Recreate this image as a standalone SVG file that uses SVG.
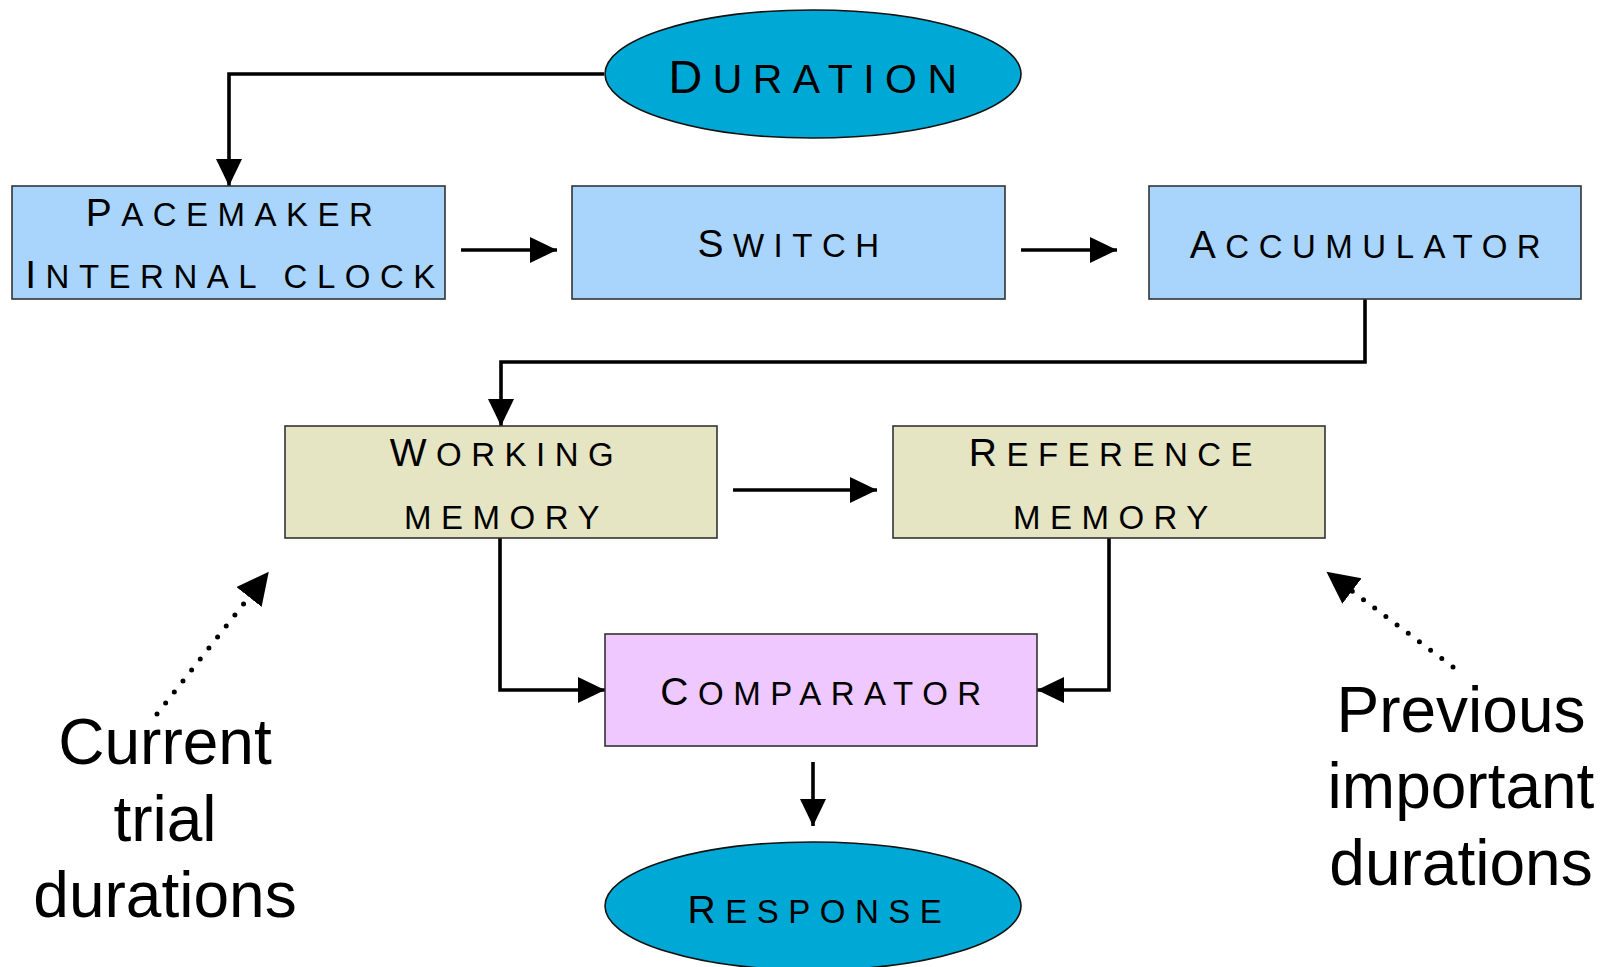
<svg xmlns="http://www.w3.org/2000/svg" width="1611" height="967" viewBox="0 0 1611 967">
<defs>
<style>
.bg{fill:#ffffff}
.box{stroke:#333333;stroke-width:1.6}
.blue{fill:#a9d5fd}
.khaki{fill:#e5e5c3}
.lav{fill:#eec8fe}
.ell{fill:#00a8d5;stroke:#111111;stroke-width:1.6}
.lbl{font-family:"Liberation Sans",Arial,sans-serif;fill:#000000;text-anchor:middle;letter-spacing:9.5px}
.cap{font-size:39px}
.sc{font-size:33px;text-transform:uppercase}
.dur{letter-spacing:10.5px}
.dcap{font-size:46.7px}
.dsc{font-size:41px;text-transform:uppercase}
.side{font-family:"Liberation Sans",Arial,sans-serif;font-size:64px;fill:#000000;text-anchor:middle}
.conn{fill:none;stroke:#000000;stroke-width:3.6;stroke-linejoin:miter;stroke-linecap:butt}
.dot{fill:none;stroke:#000000;stroke-width:5;stroke-linecap:round;stroke-dasharray:0 14}
</style>
<marker id="ah" markerUnits="userSpaceOnUse" markerWidth="28" markerHeight="28" refX="27" refY="13" orient="auto" viewBox="0 0 28 28">
<path d="M0,0 L27,13 L0,26 z" fill="#000000"/>
</marker>
<marker id="ahd" markerUnits="userSpaceOnUse" markerWidth="34" markerHeight="34" refX="0" refY="16" orient="auto" viewBox="0 0 34 34">
<path d="M0,0 L32,16 L0,32 z" fill="#000000"/>
</marker>
</defs>
<rect class="bg" x="0" y="0" width="1611" height="967"/>

<g id="connectors">
<path class="conn" d="M604,74 H229 V186" marker-end="url(#ah)"/>
<path class="conn" d="M461,250 H557" marker-end="url(#ah)"/>
<path class="conn" d="M1021,250 H1117" marker-end="url(#ah)"/>
<path class="conn" d="M1365,299 V362 H501 V426" marker-end="url(#ah)"/>
<path class="conn" d="M733,490 H877" marker-end="url(#ah)"/>
<path class="conn" d="M500,538 V690 H605" marker-end="url(#ah)"/>
<path class="conn" d="M1109,538 V690 H1037" marker-end="url(#ah)"/>
<path class="conn" d="M813,762 V826" marker-end="url(#ah)"/>
<path class="dot" d="M157,714 L249,597" marker-end="url(#ahd)"/>
<path class="dot" d="M1453,667 L1352,591" marker-end="url(#ahd)"/>
</g>

<g id="duration">
<ellipse class="ell" cx="813" cy="74" rx="208" ry="64"/>
<text class="lbl dur" x="818" y="92.7"><tspan class="dcap">D</tspan><tspan class="dsc">uration</tspan></text>
</g>

<g id="pacemaker">
<rect class="box blue" x="12" y="186" width="433" height="113"/>
<text class="lbl" x="234" y="225.7"><tspan class="cap">P</tspan><tspan class="sc">acemaker</tspan></text>
<text class="lbl" x="235" y="288.3"><tspan class="cap">I</tspan><tspan class="sc">nternal clock</tspan></text>
</g>

<g id="switch">
<rect class="box blue" x="572" y="186" width="433" height="113"/>
<text class="lbl" x="793" y="256.7"><tspan class="cap">S</tspan><tspan class="sc">witch</tspan></text>
</g>

<g id="accumulator">
<rect class="box blue" x="1149" y="186" width="432" height="113"/>
<text class="lbl" x="1370" y="258"><tspan class="cap">A</tspan><tspan class="sc">ccumulator</tspan></text>
</g>

<g id="working-memory">
<rect class="box khaki" x="285" y="426" width="432" height="112"/>
<text class="lbl" x="506.5" y="465.7"><tspan class="cap">W</tspan><tspan class="sc">orking</tspan></text>
<text class="lbl" x="506.5" y="529.3"><tspan class="sc">memory</tspan></text>
</g>

<g id="reference-memory">
<rect class="box khaki" x="893" y="426" width="432" height="112"/>
<text class="lbl" x="1115.4" y="465.7"><tspan class="cap">R</tspan><tspan class="sc">eference</tspan></text>
<text class="lbl" x="1115.4" y="529.3"><tspan class="sc">memory</tspan></text>
</g>

<g id="comparator">
<rect class="box lav" x="605" y="634" width="432" height="112"/>
<text class="lbl" x="825.5" y="705"><tspan class="cap">C</tspan><tspan class="sc">omparator</tspan></text>
</g>

<g id="response">
<ellipse class="ell" cx="813" cy="906" rx="208" ry="64"/>
<text class="lbl" x="819.4" y="922.7"><tspan class="cap">R</tspan><tspan class="sc">esponse</tspan></text>
</g>

<g id="current-trial">
<text class="side" x="165" y="764">Current</text>
<text class="side" x="165" y="841">trial</text>
<text class="side" x="165" y="917">durations</text>
</g>

<g id="previous-important">
<text class="side" x="1461" y="732">Previous</text>
<text class="side" x="1461" y="808">important</text>
<text class="side" x="1461" y="885">durations</text>
</g>
</svg>
